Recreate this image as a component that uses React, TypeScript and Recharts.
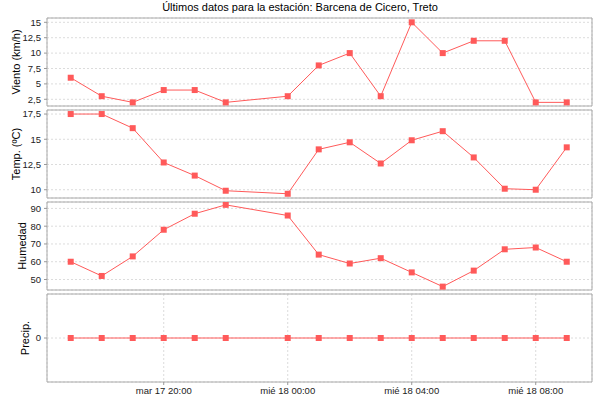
import React from 'react';
import { LineChart, Line, XAxis, YAxis, CartesianGrid, ReferenceArea } from 'recharts';

const title = 'Últimos datos para la estación: Barcena de Cicero, Treto';
const hours = [17, 18, 19, 20, 21, 22, 24, 25, 26, 27, 28, 29, 30, 31, 32, 33];
const viento = [6, 3, 2, 4, 4, 2, 3, 8, 10, 3, 15, 10, 12, 12, 2, 2];
const temp = [17.5, 17.5, 16.1, 12.7, 11.4, 9.9, 9.6, 14.0, 14.7, 12.6, 14.9, 15.8, 13.2, 10.1, 10.0, 14.2];
const humedad = [60, 52, 63, 78, 87, 92, 86, 64, 59, 62, 54, 46, 55, 67, 68, 60];
const precip = [0, 0, 0, 0, 0, 0, 0, 0, 0, 0, 0, 0, 0, 0, 0, 0];
const xTicks = [20, 24, 28, 32];
const xTickLabels = ['mar 17 20:00', 'mié 18 00:00', 'mié 18 04:00', 'mié 18 08:00'];
const xDomain = [16.235, 33.815];

const vientoTicks = [2.5, 5, 7.5, 10, 12.5, 15];
const tempTicks = [10, 12.5, 15, 17.5];
const humedadTicks = [50, 60, 70, 80, 90];
const precipTicks = [0];

const data = hours.map((h, i) => ({
  h,
  viento: viento[i],
  temp: temp[i],
  humedad: humedad[i],
  precip: precip[i],
}));

const RED = '#ff5a5a';
const FONT = '"Liberation Sans", Arial, sans-serif';
const fmtNum = (v: number) => String(v).replace('.', ',');
const fmtX = (v: number) => xTickLabels[xTicks.indexOf(v)] ?? '';

const SquareDot = (props: any) => {
  const { cx, cy } = props;
  if (cx == null || cy == null) return null;
  return <rect x={cx - 3} y={cy - 3} width={6} height={6} fill={RED} />;
};

const makeLabel = (text: string, cxOffset: number) => (props: any) => {
  const vb = props.viewBox || {};
  const x = vb.x + cxOffset;
  const y = vb.y + vb.height / 2;
  return (
    <text
      x={x}
      y={y}
      transform={`rotate(-90, ${x}, ${y})`}
      textAnchor="middle"
      dominantBaseline="central"
      fontSize={11}
      fontFamily={FONT}
      fill="#000"
    >
      {text}
    </text>
  );
};

type PanelProps = {
  top: number;
  dataKey: string;
  domain: number[];
  ticks: number[];
  label: string;
  labelX: number;
  showX?: boolean;
};

const PAD = 6;

const Panel = ({ top, dataKey, domain, ticks, label, labelX, showX }: PanelProps) => {
  const plotH = 88;
  const xH = showX ? 20 : 0;
  return (
    <div style={{ position: 'absolute', left: 0, top: top - PAD }}>
      <LineChart
        width={600}
        height={plotH + xH + PAD * 2}
        data={data}
        margin={{ top: PAD, right: 8, bottom: PAD, left: 0 }}
      >
        <CartesianGrid stroke="#dcdcdc" strokeDasharray="2 2" />
        <XAxis
          dataKey="h"
          type="number"
          domain={xDomain}
          ticks={xTicks}
          interval={0}
          allowDataOverflow
          height={xH}
          tick={showX ? { fontSize: 9.5, fill: '#222', fontFamily: FONT } : false}
          tickFormatter={fmtX}
          tickLine={showX ? { stroke: '#999' } : false}
          tickSize={3}
          tickMargin={2}
          axisLine={false}
        />
        <YAxis
          type="number"
          domain={domain}
          ticks={ticks}
          interval={0}
          allowDataOverflow
          width={47}
          tick={{ fontSize: 9.5, fill: '#222', fontFamily: FONT }}
          tickFormatter={fmtNum}
          tickLine={{ stroke: '#999' }}
          tickSize={3}
          tickMargin={3}
          axisLine={false}
          label={{ content: makeLabel(label, labelX) }}
        />
        <ReferenceArea
          x1={xDomain[0]}
          x2={xDomain[1]}
          y1={domain[0]}
          y2={domain[1]}
          fill="none"
          stroke="#aaaaaa"
          strokeWidth={1}
          ifOverflow="visible"
        />
        <Line
          type="linear"
          dataKey={dataKey}
          stroke={RED}
          strokeWidth={1}
          dot={<SquareDot />}
          activeDot={false}
          isAnimationActive={false}
        />
      </LineChart>
    </div>
  );
};

export default function App() {
  return (
    <div
      style={{
        position: 'absolute',
        left: 0,
        top: 0,
        width: 600,
        height: 400,
        background: '#fff',
        fontFamily: FONT,
      }}
    >
      <div
        style={{
          position: 'absolute',
          left: 0,
          top: 0,
          width: 600,
          textAlign: 'center',
          fontSize: 11,
          lineHeight: '15px',
          color: '#000',
        }}
      >
        {title}
      </div>
      <Panel top={18} dataKey="viento" domain={[1.41, 15.7]} ticks={vientoTicks} label="Viento (km/h)" labelX={16} />
      <Panel top={110} dataKey="temp" domain={[9.18, 17.9]} ticks={tempTicks} label="Temp. (ºC)" labelX={16} />
      <Panel top={202} dataKey="humedad" domain={[44.1, 93.6]} ticks={humedadTicks} label="Humedad" labelX={22} />
      <Panel top={294} dataKey="precip" domain={[-1, 1]} ticks={precipTicks} label="Precip." labelX={25} showX />
    </div>
  );
}
